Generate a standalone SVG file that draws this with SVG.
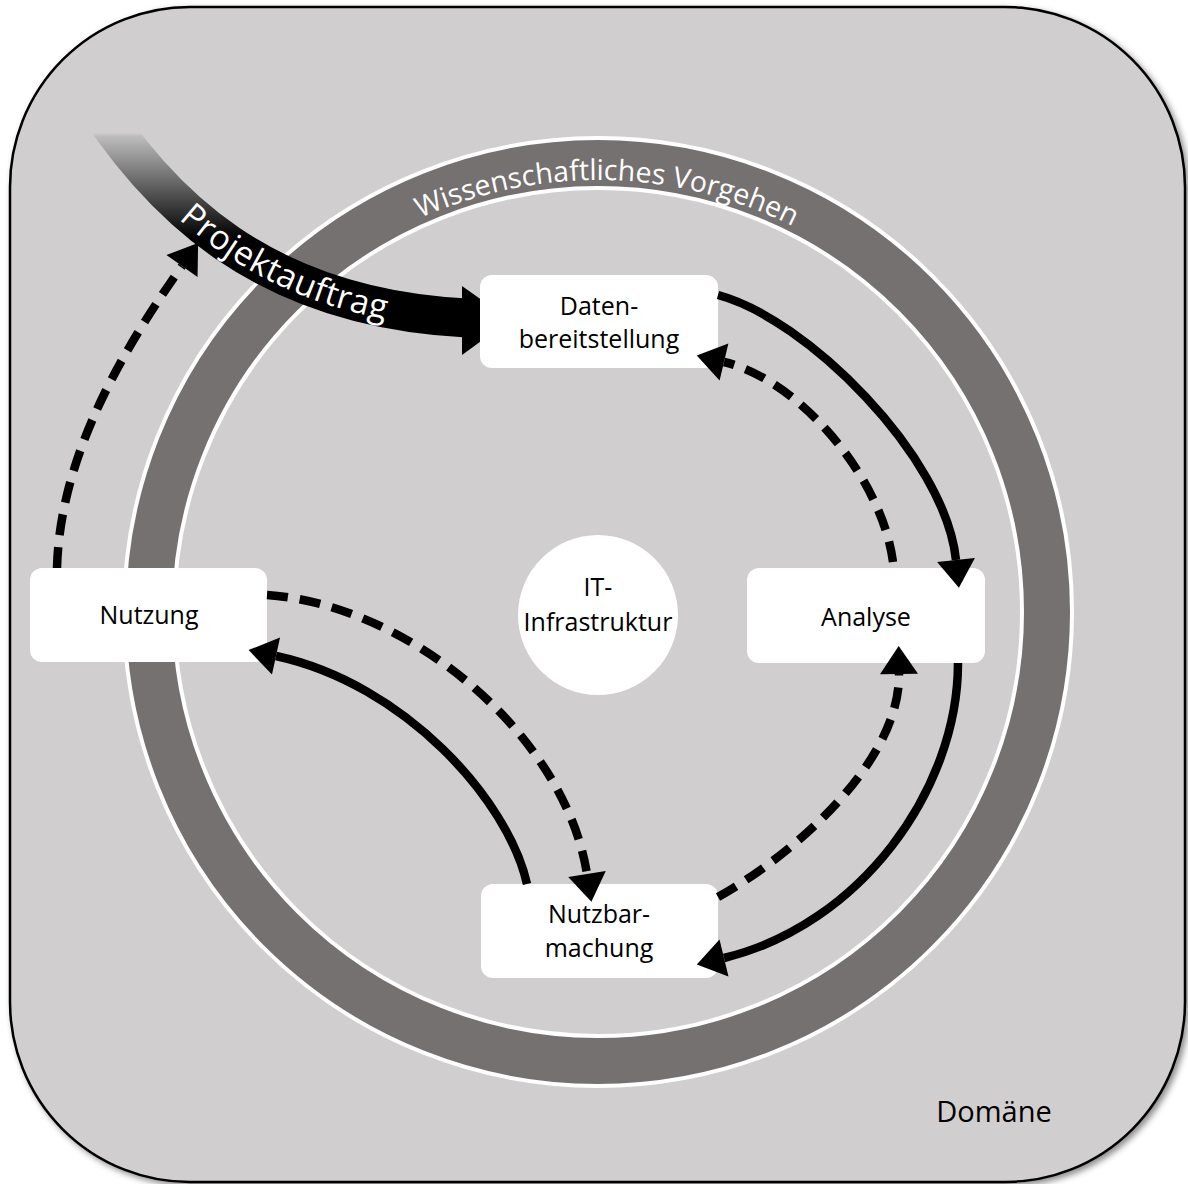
<svg xmlns="http://www.w3.org/2000/svg" width="1188" height="1184" viewBox="0 0 1188 1184">
<defs>
<style>
.lbl{font-family:"Open Sans","Liberation Sans",sans-serif;font-size:25px;fill:#000;text-anchor:middle}
.node{fill:#fff}
.con{fill:none;stroke:#000;stroke-width:8.5}
.dash{stroke-dasharray:21 12}
</style>
<filter id="sh" x="-5%" y="-5%" width="110%" height="110%">
<feDropShadow dx="3" dy="3" stdDeviation="3" flood-color="#000" flood-opacity="0.45"/>
</filter>
<linearGradient id="fade" gradientUnits="userSpaceOnUse" x1="0" y1="133" x2="0" y2="238">
<stop offset="0" stop-color="#d0cece"/>
<stop offset="0.03" stop-color="#bdbdbd"/>
<stop offset="1" stop-color="#000"/>
</linearGradient>
<marker id="ah" markerUnits="userSpaceOnUse" markerWidth="30" markerHeight="40" refX="0" refY="19" orient="auto" overflow="visible">
<path d="M0,0 L28,19 L0,38 Z" fill="#000"/>
</marker>
<path id="ringArc" d="M166 612 A432 432 0 0 1 1030 612"/>
<path id="pa" d="M81 80 C158 209 267 308 467 318"/>
</defs>

<g id="domain">
<rect x="10" y="7" width="1175" height="1175" rx="180" ry="180" fill="#d0cece" stroke="#000" stroke-width="2.5" filter="url(#sh)"/>
<text class="lbl" x="994" y="1122" style="font-size:29px">Domäne</text>
</g>

<g id="ring">
<circle cx="598" cy="612" r="449" fill="none" stroke="#767171" stroke-width="48"/>
<circle cx="598" cy="612" r="474" fill="none" stroke="#fff" stroke-width="4"/>
<circle cx="598" cy="612" r="424" fill="none" stroke="#fff" stroke-width="4"/>
<text style="font-family:'Open Sans','Liberation Sans',sans-serif;font-size:28.5px;fill:#fff;text-anchor:middle"><textPath href="#ringArc" startOffset="50.7%">Wissenschaftliches Vorgehen</textPath></text>
</g>

<g id="it">
<circle cx="598" cy="615" r="80" fill="#fff"/>
<text class="lbl" x="598" y="596">IT-</text>
<text class="lbl" x="598" y="631">Infrastruktur</text>
</g>

<g id="projektauftrag">
<use href="#pa" fill="none" stroke="url(#fade)" stroke-width="39"/>
<path d="M462 286 L510 320 L462 355 Z" fill="#000"/>
<text style="font-family:'Open Sans','Liberation Sans',sans-serif;font-size:34px;fill:#fff" dy="11"><textPath href="#pa" startOffset="168">Projektauftrag</textPath></text>
</g>

<g id="daten">
<rect class="node" x="480" y="275" width="238" height="93" rx="12"/>
<text class="lbl" x="599" y="315">Daten-</text>
<text class="lbl" x="599" y="348">bereitstellung</text>
</g>

<g id="analyse">
<rect class="node" x="747" y="568" width="238" height="95" rx="12"/>
<text class="lbl" x="866" y="626">Analyse</text>
</g>

<g id="nutzung">
<rect class="node" x="30" y="568" width="237" height="94" rx="12"/>
<text class="lbl" x="149" y="624">Nutzung</text>
</g>

<g id="nutzbarmachung">
<rect class="node" x="481" y="884" width="237" height="94" rx="12"/>
<text class="lbl" x="599" y="923">Nutzbar-</text>
<text class="lbl" x="599" y="957">machung</text>
</g>

<g id="connectors">
<path class="con" d="M718 295 C805 318 945 455 956 560" marker-end="url(#ah)"/>
<path class="con dash" d="M893 562 C882 478 800 380 724 362" marker-end="url(#ah)"/>
<path class="con" d="M958 663 C958 790 860 925 724 958" marker-end="url(#ah)"/>
<path class="con dash" d="M718 897 C798 852 900 760 899 674" marker-end="url(#ah)"/>
<path class="con" d="M527 884 C508 800 405 684 276 656" marker-end="url(#ah)"/>
<path class="con dash" d="M267 595 C410 605 565 735 587 874" marker-end="url(#ah)"/>
<path class="con dash" d="M57 568 C60 450 130 340 182 266" marker-end="url(#ah)"/>
</g>
</svg>
